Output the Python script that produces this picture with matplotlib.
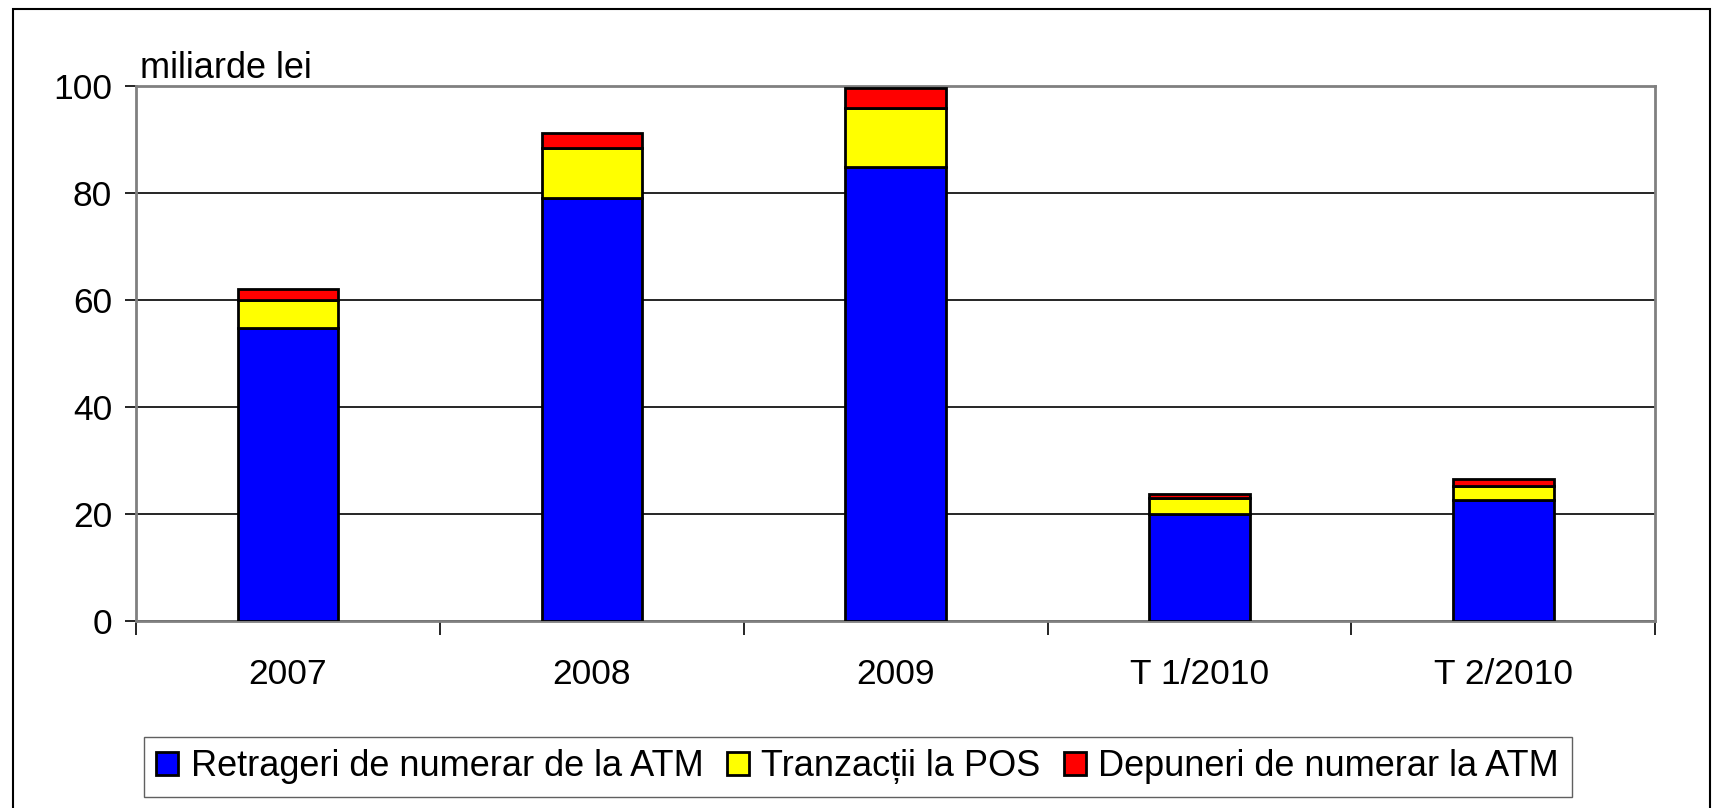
import matplotlib.pyplot as plt
import matplotlib.patches as mpatches
import numpy as np

plt.rcParams['font.family'] = ['Liberation Sans', 'DejaVu Sans']

categories = ["2007", "2008", "2009", "T 1/2010", "T 2/2010"]
retrageri = [54.7, 79.0, 84.7, 20.0, 22.5]
pos = [5.3, 9.4, 11.1, 3.0, 2.7]
depuneri = [2.0, 2.7, 3.7, 0.6, 1.2]
labels = ["Retrageri de numerar de la ATM", "Tranzacții la POS", "Depuneri de numerar la ATM"]
colors = ["#0000ff", "#ffff00", "#ff0000"]

fig = plt.figure(figsize=(17.19, 8.08), dpi=100)
ax = fig.add_axes([0.079, 0.232, 0.884, 0.662])

x = np.arange(len(categories))
bottom = np.zeros(len(categories))
for vals, lab, col in zip([retrageri, pos, depuneri], labels, colors):
    ax.bar(x, vals, 0.33, bottom=bottom, color=col, edgecolor='black', linewidth=2, label=lab, zorder=3)
    bottom += np.array(vals)

ax.set_xlim(-0.5, len(categories) - 0.5)
ax.set_ylim(0, 100)
ax.set_yticks(range(0, 101, 20))
ax.yaxis.grid(True, color='black', linewidth=1.2, zorder=0)
ax.set_xticks(x)
ax.set_xticklabels(categories)
ax.set_xticks(np.arange(-0.5, len(categories)), minor=True)
ax.tick_params(axis='x', which='major', length=0, pad=27, labelsize=25.5)
ax.tick_params(axis='x', which='minor', length=10, width=1.2, direction='out')
ax.tick_params(axis='y', length=8, width=1.2, direction='out', pad=9, labelsize=25.5)
for s in ['top', 'right', 'left', 'bottom']:
    ax.spines[s].set_color('#808080')
    ax.spines[s].set_linewidth(2)

ax.text(0.003, 1.014, "miliarde lei", transform=ax.transAxes, fontsize=26, ha='left', va='baseline')

fig.legend(loc='center', bbox_to_anchor=(0.499, 0.051), ncol=3, fontsize=26,
           frameon=True, fancybox=False, edgecolor='#606060', framealpha=1,
           handlelength=0.6, handleheight=0.6, handletextpad=0.35, columnspacing=0.65,
           borderpad=0.35, borderaxespad=0)

fig.patches.append(mpatches.Rectangle((13 / 1719, -0.02), 1697 / 1719, 1.02 - 9 / 808,
                                      transform=fig.transFigure, fill=False,
                                      edgecolor='black', linewidth=1.5))

fig.savefig("out.png", dpi=100)
